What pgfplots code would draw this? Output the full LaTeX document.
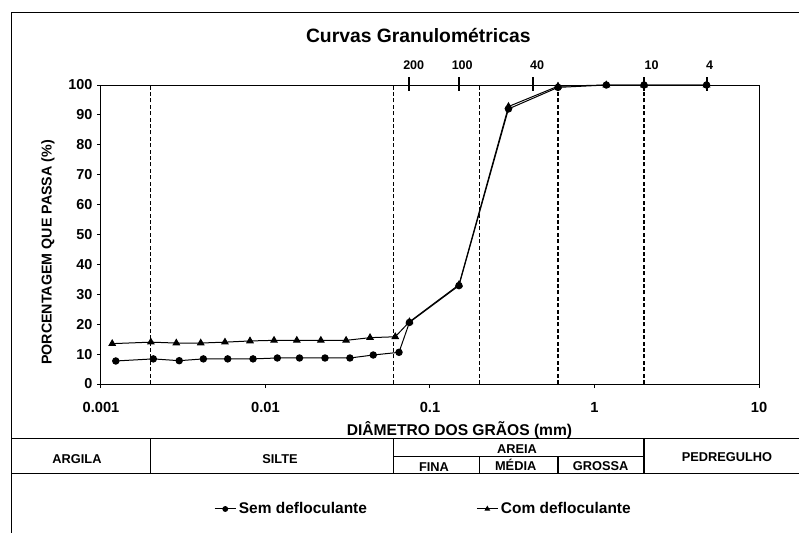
\documentclass[border=0pt]{standalone}
\usepackage{fontspec}
\setmainfont{Liberation Sans}
\usepackage{pgfplots}
\pgfplotsset{compat=1.18}
\begin{document}
\begin{tikzpicture}
\useasboundingbox (0pt,0pt) rectangle (599.25pt,-399pt);
\begin{axis}[
  at={(75.75pt,-288pt)}, anchor=south west,
  scale only axis, width=493.5pt, height=224.25pt,
  xmode=log, xmin=0.001, xmax=10, ymin=0, ymax=100,
  xtick={0.001,0.01,0.1,1,10}, xticklabels={0.001,0.01,0.1,1,10},
  ytick={0,10,20,30,40,50,60,70,80,90,100},
  xminorticks=false,
  tick align=outside, xtick pos=bottom, ytick pos=left,
  major tick length=3pt,
  tick style={black, line width=0.75pt},
  axis line style={black, line width=0.75pt},
  clip=false,
  /pgf/number format/assume math mode=true,
  xticklabel style={font=\fontsize{11}{12}\selectfont\bfseries, yshift=-7pt},
  yticklabel style={font=\fontsize{10.8}{12}\selectfont\bfseries},
  legend columns=2,
  legend cell align=left,
  legend style={at={(0.1717,-0.418)}, anchor=west, draw=none, fill=none,
    inner sep=0pt, font=\fontsize{11.6}{13}\selectfont\bfseries,
    /tikz/every even column/.append style={column sep=80pt}},
  legend image code/.code={\draw[#1] (0pt,0pt) -- (15.75pt,0pt);
    \draw[#1, mark size=1.8pt] plot coordinates {(7.9pt,0pt)};},
]
% dashed boundaries
\draw[dash pattern=on 3pt off 1.8pt, line width=1.1pt] (axis cs:0.002,0) -- (axis cs:0.002,100);
\draw[dash pattern=on 3pt off 1.8pt, line width=1.1pt] (axis cs:0.06,0) -- (axis cs:0.06,100);
\draw[dash pattern=on 3pt off 1.8pt, line width=1.1pt] (axis cs:0.2,0) -- (axis cs:0.2,100);
\draw[dash pattern=on 3pt off 1.8pt, line width=1.1pt] (axis cs:0.6,0) -- (axis cs:0.6,100);
\draw[dash pattern=on 3pt off 1.8pt, line width=1.1pt] (axis cs:2,0) -- (axis cs:2,100);
% sieve ticks
\draw[line width=1.5pt] (axis cs:0.075,98) -- (axis cs:0.075,102.7);
\draw[line width=1.5pt] (axis cs:0.15,98) -- (axis cs:0.15,102.7);
\draw[line width=1.5pt] (axis cs:0.42,98) -- (axis cs:0.42,102.7);
\draw[line width=1.5pt] (axis cs:2,98) -- (axis cs:2,102.7);
\draw[line width=1.5pt] (axis cs:4.8,98) -- (axis cs:4.8,102.7);
% table vertical lines
\draw[line width=1pt] (axis cs:0.002,-18.23) -- (axis cs:0.002,-29.93);
\draw[line width=1pt] (axis cs:0.06,-18.23) -- (axis cs:0.06,-29.93);
\draw[line width=1pt] (axis cs:0.2,-24.31) -- (axis cs:0.2,-29.93);
\draw[line width=1pt] (axis cs:0.6,-24.31) -- (axis cs:0.6,-29.93);
\draw[line width=1pt] (axis cs:2,-18.23) -- (axis cs:2,-29.93);
\draw[line width=1pt] (axis cs:0.06,-24.31) -- (axis cs:2,-24.31);

\addplot[black, line width=0.75pt, mark=*, mark size=2.4pt] coordinates {
(0.00123,7.7) (0.00208,8.4) (0.00299,7.8) (0.00419,8.4) (0.00589,8.4)
(0.00840,8.4) (0.0118,8.7) (0.0161,8.7) (0.0230,8.7) (0.0326,8.7)
(0.0452,9.7) (0.0648,10.6) (0.075,20.6) (0.15,32.9) (0.30,92.0)
(0.60,99.2) (1.18,100) (2.0,100) (4.8,100)};
\addlegendentry{Sem defloculante}
\addplot[black, line width=0.75pt, mark=triangle*, mark size=2.7pt] coordinates {
(0.00117,13.5) (0.00201,14.0) (0.00287,13.7) (0.00404,13.7) (0.00567,14.0)
(0.00805,14.4) (0.01127,14.6) (0.0155,14.6) (0.0217,14.6) (0.0309,14.6)
(0.0432,15.5) (0.0615,15.8) (0.075,20.8) (0.15,33.2) (0.30,92.8)
(0.60,99.6) (1.18,100) (2.0,100) (4.8,100)};
\addlegendentry{Com defloculante}
\end{axis}
\begin{scope}[x=0.75pt,y=-0.75pt]
% outer frame
\draw[line width=0.75pt] (11,12) rectangle (805,540);
% table horizontal lines
\draw[line width=1pt] (11,438.5) -- (805,438.5);
\draw[line width=1pt] (11,473.5) -- (805,473.5);
% title and labels
\node[anchor=base, inner sep=0pt, font=\fontsize{14.5}{17}\selectfont\bfseries] at (418.3,42.7) {Curvas Granulométricas};
\begin{scope}[every node/.style={anchor=base, inner sep=0pt, font=\fontsize{9.4}{11}\selectfont\bfseries}]
\node at (413.7,69.3) {200};
\node at (462.2,69.3) {100};
\node at (537,69.3) {40};
\node at (651.7,69.3) {10};
\node at (709.5,69.3) {4};
\end{scope}
\node[anchor=base, inner sep=0pt, font=\fontsize{11.7}{13}\selectfont\bfseries] at (459.5,435) {DIÂMETRO DOS GRÃOS (mm)};
\node[anchor=base, rotate=90, inner sep=0pt, font=\fontsize{10.7}{13}\selectfont\bfseries] at (51.7,252.5) {PORCENTAGEM QUE PASSA (\%)};
\begin{scope}[every node/.style={anchor=base, inner sep=0pt, font=\fontsize{9.6}{11}\selectfont\bfseries}]
\node at (77,463.3) {ARGILA};
\node at (280,463.3) {SILTE};
\node at (517,453.3) {AREIA};
\node at (434,471) {FINA};
\node at (515.7,470) {MÉDIA};
\node at (600.7,470) {GROSSA};
\node at (727,461.7) {PEDREGULHO};
\end{scope}
\end{scope}
\end{tikzpicture}
\end{document}
